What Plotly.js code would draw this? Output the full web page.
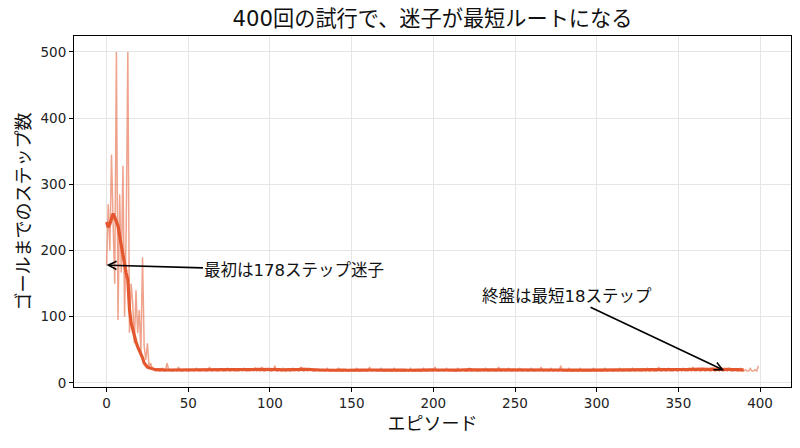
<!DOCTYPE html>
<html>
<head>
<meta charset="utf-8">
<script src="https://cdn.plot.ly/plotly-3.0.1.min.js"></script>
<style>html,body{margin:0;padding:0;background:#fff;}#chart{width:800px;height:448px;}</style>
</head>
<body>
<div id="chart"></div>
<script>
// Raw steps per episode (episodes 0..399)
const rawSteps = [
  178,270,200,345,240,150,500,95,285,167,328,100,230,500,76,150,120,60,140,75,110,45,190,55,35,60,24,30,22,20,
  18,20,18,18,22,18,18,30,20,18,18,18,20,18,24,18,18,18,20,18,
  18,18,20,18,18,22,18,18,18,20,18,18,18,24,18,18,20,18,18,18,
  20,18,18,18,22,18,18,20,18,18,18,18,20,18,22,18,18,18,18,20,
  18,22,18,20,18,24,18,18,20,22,18,18,20,26,18,18,20,18,22,18,
  18,20,18,18,22,18,20,18,18,24,18,18,20,18,22,20,18,18,18,20,
  18,18,20,18,18,22,18,18,18,20,18,18,22,18,18,18,20,18,18,18,
  20,18,18,22,18,18,18,20,18,18,18,24,18,18,20,18,18,18,22,18,
  18,18,20,18,18,18,22,18,18,20,18,18,18,18,20,18,22,18,18,18,
  20,18,18,18,22,18,18,18,20,18,18,24,18,18,18,20,18,18,22,18,
  18,20,18,18,18,22,18,18,20,18,18,18,22,18,18,20,18,18,18,18,
  20,18,22,18,18,18,20,18,18,18,24,18,18,20,18,18,22,18,18,18,
  20,18,18,22,18,18,20,18,18,18,22,18,18,18,20,18,24,18,18,20,
  18,18,22,18,18,20,18,18,26,18,18,20,18,22,18,18,18,20,18,18,
  22,18,18,18,20,18,18,18,22,18,18,20,18,18,18,22,18,18,20,18,
  18,18,20,18,22,18,18,18,20,18,18,18,22,18,18,20,18,18,18,20,
  18,22,18,18,20,18,18,18,24,18,18,20,18,18,22,18,18,18,20,18,
  18,20,18,22,18,18,18,20,18,24,18,18,20,18,18,22,18,18,20,18,
  18,22,18,18,20,18,24,18,18,20,18,22,18,18,18,20,18,18,22,18,
  18,20,18,18,22,18,18,20,18,26
];

// Moving average (10 episodes), episodes 0..390
const avgSteps = [
  243,235,240,250,256,250,243,237,222,207,192,176,166,156,111,91,80,70,62,55,50,45,38,30,26,24,23,22,21,20.5,20,
  20.2,20.4,20.2,20.0,19.8,19.6,19.6,19.4,19.6,19.8,19.6,19.4,19.2,19.2,19.4,19.6,19.4,19.2,19.4,19.6,
  19.6,19.4,19.6,19.6,19.4,19.2,19.4,19.6,19.4,19.4,19.6,19.4,19.2,19.2,19.4,19.6,19.4,19.4,19.2,19.4,
  19.4,19.6,19.4,19.4,19.2,19.4,19.6,19.4,19.2,19.4,19.4,19.6,19.4,19.6,19.8,19.6,19.8,20.0,20.2,20.4,
  20.6,20.6,20.8,21.0,20.8,20.6,20.8,21.0,21.2,21.0,20.8,20.6,20.4,20.2,20.0,20.0,19.8,19.8,19.6,19.8,
  20.0,20.2,20.0,20.2,20.4,20.6,20.4,20.6,20.8,20.6,20.4,20.6,20.8,21.0,20.8,20.6,20.4,20.2,20.0,19.8,
  19.6,19.6,19.4,19.6,19.4,19.4,19.6,19.4,19.4,19.2,19.4,19.6,19.4,19.4,19.6,19.4,19.2,19.4,19.4,19.6,
  19.6,19.4,19.6,19.4,19.4,19.6,19.8,19.6,19.6,19.8,19.8,19.6,19.6,19.4,19.6,19.4,19.4,19.6,19.4,19.4,
  19.4,19.6,19.4,19.6,19.8,19.6,19.4,19.4,19.6,19.4,19.4,19.6,19.4,19.2,19.4,19.6,19.4,19.4,19.6,19.4,
  19.6,19.4,19.6,19.8,19.6,19.6,19.8,19.6,19.6,19.8,19.6,19.4,19.6,19.4,19.6,19.8,19.6,19.6,19.4,19.6,
  19.6,19.4,19.4,19.6,19.4,19.6,19.8,19.6,19.6,19.4,19.6,19.8,20.0,19.8,19.8,19.6,19.8,19.6,19.8,20.0,
  20.0,19.8,19.8,20.0,19.8,19.8,20.0,20.2,20.0,19.8,20.0,19.8,19.8,19.6,19.8,19.8,19.6,19.8,20.0,19.8,
  19.8,19.6,19.8,20.0,20.2,20.0,20.2,20.4,20.2,20.4,20.6,20.4,20.2,20.4,20.2,20.0,19.8,20.0,19.8,20.0,
  20.2,20.0,19.8,19.6,19.8,19.6,19.6,19.8,19.6,19.4,19.6,19.6,19.4,19.6,19.4,19.4,19.6,19.4,19.6,19.4,
  19.4,19.6,19.4,19.6,19.4,19.4,19.6,19.4,19.6,19.8,19.6,19.4,19.6,19.4,19.4,19.6,19.4,19.6,19.8,19.6,
  19.4,19.6,19.4,19.4,19.6,19.4,19.6,19.4,19.4,19.6,19.8,19.6,19.4,19.6,19.6,19.4,19.6,19.8,19.6,19.8,
  19.6,19.8,20.0,19.8,19.8,20.0,19.8,19.6,19.8,19.6,19.8,19.6,19.8,19.8,19.6,19.6,19.8,19.6,19.8,20.0,
  20.2,20.0,20.2,20.4,20.2,20.4,20.6,20.4,20.6,20.8,20.6,20.8,20.6,20.4,20.6,20.4,20.6,20.8,20.6,20.8,
  21.0,20.8,20.6,20.8,20.6,20.4,20.6,20.4,20.2,20.4,20.6,20.4,20.2,20.0,19.8,20.0,19.8,19.6,19.8,19.8
];

const xTicks = [0,50,100,150,200,250,300,350,400];
const yTicks = [0,100,200,300,400,500];
const titleText = '400回の試行で、迷子が最短ルートになる';
const xTitle = 'エピソード';
const yTitle = 'ゴールまでのステップ数';
const noteFirst = {text:'最初は178ステップ迷子', x:0, y:178, tx:115, ty:170};
const noteLast = {text:'終盤は最短18ステップ', x:378, y:19, tx:282, ty:131};

const rawX = rawSteps.map((_, i) => i);
const avgX = avgSteps.map((_, i) => i);

const FONT = '"DejaVu Sans", "Noto Sans CJK JP", sans-serif';

const traces = [
  {x: rawX, y: rawSteps, type: 'scatter', mode: 'lines',
   line: {color: '#E4572E', width: 1.5}, opacity: 0.55, hoverinfo: 'skip', showlegend: false},
  {x: avgX, y: avgSteps, type: 'scatter', mode: 'lines',
   line: {color: '#E4572E', width: 3.2}, showlegend: false}
];

function note(n) {
  return {x: n.x, y: n.y, ax: n.tx, ay: n.ty, axref: 'x', ayref: 'y', xref: 'x', yref: 'y',
    text: n.text, showarrow: true, arrowhead: 5, arrowsize: 1, arrowwidth: 1.6, arrowcolor: '#000',
    standoff: 0, font: {family: FONT, size: 16.5, color: '#111'}};
}

const axisCommon = {showline: true, mirror: true, linecolor: '#000', linewidth: 1,
  ticks: 'outside', ticklen: 4, tickcolor: '#000', gridcolor: '#e5e5e5', gridwidth: 1,
  zeroline: false, tickfont: {family: FONT, size: 13.5, color: '#222'}};

const layout = {
  width: 800, height: 448,
  margin: {l: 74, r: 9, t: 36, b: 61},
  paper_bgcolor: '#fff', plot_bgcolor: '#fff',
  font: {family: FONT},
  title: {text: titleText, font: {family: FONT, size: 21.2, color: '#111'},
          x: 0.5, xref: 'paper', xanchor: 'center', y: 0.958, yanchor: 'middle', yref: 'container'},
  xaxis: Object.assign({}, axisCommon, {range: [-19.95, 418.95], tickvals: xTicks,
    title: {text: xTitle, font: {family: FONT, size: 18, color: '#111'}, standoff: 7}}),
  yaxis: Object.assign({}, axisCommon, {range: [-6.1, 524.1], tickvals: yTicks,
    title: {text: yTitle, font: {family: FONT, size: 18, color: '#111'}, standoff: 5}}),
  annotations: [note(noteFirst), note(noteLast)],
  showlegend: false
};

Plotly.newPlot('chart', traces, layout, {displayModeBar: false, staticPlot: true});
</script>
</body>
</html>
